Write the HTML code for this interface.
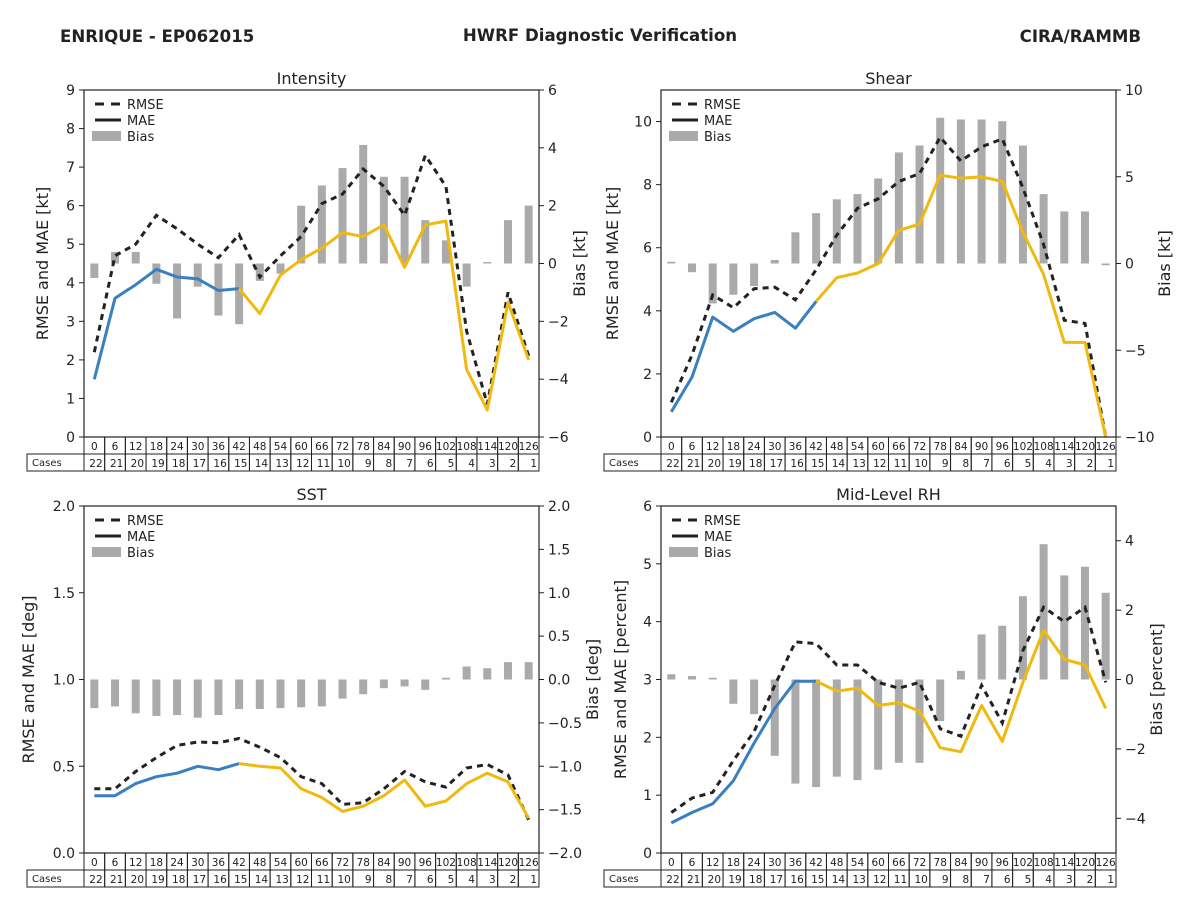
<!DOCTYPE html>
<html><head><meta charset="utf-8"><style>
body{margin:0;background:#fff}
svg{display:block;font-family:"DejaVu Sans","Liberation Sans",sans-serif}
</style></head><body>
<svg id="chart" width="1200" height="900" viewBox="0 0 1200 900">
<text x="60" y="42" font-size="16.6" font-weight="bold" fill="#222">ENRIQUE - EP062015</text>
<text x="600" y="41" font-size="16.6" font-weight="bold" fill="#222" text-anchor="middle">HWRF Diagnostic Verification</text>
<text x="1141" y="42" font-size="16.6" font-weight="bold" fill="#222" text-anchor="end">CIRA/RAMMB</text>
</svg>
<script>
const hours=[0,6,12,18,24,30,36,42,48,54,60,66,72,78,84,90,96,102,108,114,120,126];
const cases=[22,21,20,19,18,17,16,15,14,13,12,11,10,9,8,7,6,5,4,3,2,1];
const intRmse=[2.2,4.7,5.0,5.75,5.4,5.0,4.65,5.25,4.15,4.7,5.2,6.05,6.3,6.95,6.5,5.75,7.3,6.5,2.75,0.85,3.75,2.1];
const intMae=[1.5,3.6,3.95,4.35,4.15,4.1,3.8,3.85,3.2,4.2,4.6,4.9,5.3,5.2,5.5,4.4,5.5,5.6,1.75,0.7,3.5,2.0];
const intBias=[-0.5,0.4,0.4,-0.7,-1.9,-0.8,-1.8,-2.1,-0.6,-0.35,2.0,2.7,3.3,4.1,3.0,3.0,1.5,0.8,-0.8,0.05,1.5,2.0];
const shrRmse=[1.1,2.6,4.5,4.1,4.7,4.75,4.35,5.3,6.4,7.25,7.55,8.1,8.35,9.5,8.75,9.2,9.45,7.9,6.1,3.7,3.6,0];
const shrMae=[0.8,1.9,3.8,3.35,3.75,3.95,3.45,4.3,5.05,5.2,5.5,6.55,6.75,8.3,8.2,8.25,8.1,6.5,5.15,3.0,3.0,0];
const shrBias=[0.1,-0.5,-2.3,-1.8,-1.3,0.2,1.8,2.9,3.7,4.0,4.9,6.4,6.8,8.4,8.3,8.3,8.2,6.8,4.0,3.0,3.0,-0.1];
const sstRmse=[0.37,0.37,0.47,0.55,0.62,0.64,0.635,0.66,0.61,0.55,0.44,0.4,0.28,0.29,0.37,0.47,0.41,0.38,0.49,0.51,0.45,0.19];
const sstMae=[0.33,0.33,0.4,0.44,0.46,0.5,0.48,0.515,0.5,0.49,0.37,0.32,0.24,0.27,0.33,0.42,0.27,0.3,0.4,0.46,0.41,0.2];
const sstBias=[-0.33,-0.31,-0.39,-0.42,-0.41,-0.44,-0.41,-0.34,-0.34,-0.33,-0.32,-0.31,-0.22,-0.17,-0.1,-0.08,-0.12,0.02,0.15,0.13,0.2,0.2];
const rhRmse=[0.7,0.95,1.05,1.6,2.1,2.9,3.65,3.62,3.25,3.25,2.95,2.85,2.95,2.15,2.02,2.9,2.25,3.5,4.25,4.0,4.25,2.95];
const rhMae=[0.52,0.7,0.85,1.25,1.9,2.5,2.97,2.97,2.8,2.85,2.55,2.6,2.45,1.82,1.75,2.55,1.93,2.95,3.85,3.35,3.25,2.5];
const rhBias=[0.15,0.1,0.05,-0.7,-1.0,-2.2,-3.0,-3.1,-2.8,-2.9,-2.6,-2.4,-2.4,-1.2,0.25,1.3,1.55,2.4,3.9,3.0,3.25,2.5];

const svg=document.getElementById('chart');
const NS='http://www.w3.org/2000/svg';
function mk(tag,attrs,parent){const e=document.createElementNS(NS,tag);for(const k in attrs)e.setAttribute(k,attrs[k]);(parent||svg).appendChild(e);return e;}

const panels=[
 {key:'intensity',title:'Intensity',x0:84,y0:90,lmin:0,lmax:9,lt:[0,1,2,3,4,5,6,7,8,9],rmin:-6,rmax:6,rt:[-6,-4,-2,0,2,4,6],ll:'RMSE and MAE [kt]',rl:'Bias [kt]',llx:48,rlx:585,rmse:intRmse,mae:intMae,bias:intBias,fmt:v=>String(v).replace('-','\u2212')},
 {key:'shear',title:'Shear',x0:661,y0:90,lmin:0,lmax:11,lt:[0,2,4,6,8,10],rmin:-10,rmax:10,rt:[-10,-5,0,5,10],ll:'RMSE and MAE [kt]',rl:'Bias [kt]',llx:618,rlx:1170,rmse:shrRmse,mae:shrMae,bias:shrBias,fmt:v=>String(v).replace('-','\u2212')},
 {key:'sst',title:'SST',x0:84,y0:506,lmin:0,lmax:2,lt:[0,0.5,1,1.5,2],rmin:-2,rmax:2,rt:[-2,-1.5,-1,-0.5,0,0.5,1,1.5,2],ll:'RMSE and MAE [deg]',rl:'Bias [deg]',llx:34,rlx:598,rmse:sstRmse,mae:sstMae,bias:sstBias,fmt:v=>v.toFixed(1).replace('-','\u2212')},
 {key:'rh',title:'Mid-Level RH',x0:661,y0:506,lmin:0,lmax:6,lt:[0,1,2,3,4,5,6],rmin:-5,rmax:5,rt:[-4,-2,0,2,4],ll:'RMSE and MAE [percent]',rl:'Bias [percent]',llx:626,rlx:1162,rmse:rhRmse,mae:rhMae,bias:rhBias,fmt:v=>String(v).replace('-','\u2212')}
];
const W=455,H=347,n=hours.length,cw=W/n;

panels.forEach(p=>{
 const g=mk('g',{});
 
 
 const xs=i=>p.x0+cw*(i+0.5);
 const yl=v=>p.y0+H-(v-p.lmin)/(p.lmax-p.lmin)*H;
 const yr=v=>p.y0+H-(v-p.rmin)/(p.rmax-p.rmin)*H;
 const t=mk('text',{x:p.x0+W/2,y:p.y0-6,'font-size':16,'text-anchor':'middle',fill:'#222'},g);
 t.textContent=p.title;
 
 
 p.bias.forEach((b,i)=>{
  const y0=yr(0),y1=yr(b);
  const r=mk('rect',{x:xs(i)-4,y:Math.min(y0,y1),width:8,height:Math.max(0.8,Math.abs(y1-y0)),fill:'#aaaaaa'},g);
  
  
 });
 const rp=p.rmse.map((v,i)=>xs(i).toFixed(1)+','+yl(v).toFixed(1)).join(' ');
 const rl=mk('polyline',{points:rp,fill:'none',stroke:'#222','stroke-width':3,'stroke-dasharray':'6,5'},g);
 
 
 const split=7;
 const bp=p.mae.slice(0,split+1).map((v,i)=>xs(i).toFixed(1)+','+yl(v).toFixed(1)).join(' ');
 const yp=p.mae.slice(split).map((v,i)=>xs(i+split).toFixed(1)+','+yl(v).toFixed(1)).join(' ');
 const bl=mk('polyline',{points:bp,fill:'none',stroke:'#3a7fbf','stroke-width':3,'stroke-linejoin':'round'},g);
 
 
 const yl2=mk('polyline',{points:yp,fill:'none',stroke:'#f0b90f','stroke-width':3,'stroke-linejoin':'round'},g);
 
 
 const fr=mk('rect',{x:p.x0,y:p.y0,width:W,height:H,fill:'none',stroke:'#222','stroke-width':1.2},g);
 
 
 p.lt.forEach(v=>{
  const y=yl(v);
  mk('line',{x1:p.x0-5,x2:p.x0,y1:y,y2:y,stroke:'#222'},g);
  const tx=mk('text',{x:p.x0-9,y:y+5,'font-size':14,'text-anchor':'end',fill:'#222'},g);
  tx.textContent=p.key==='sst'?v.toFixed(1):String(v);
  
  
 });
 p.rt.forEach(v=>{
  const y=yr(v);
  mk('line',{x1:p.x0+W,x2:p.x0+W+5,y1:y,y2:y,stroke:'#222'},g);
  const tx=mk('text',{x:p.x0+W+9,y:y+5,'font-size':14,'text-anchor':'start',fill:'#222'},g);
  tx.textContent=p.fmt(v);
  
  
 });
 const cy=p.y0+H/2;
 const la=mk('text',{x:p.llx,y:cy,'font-size':16,'text-anchor':'middle',fill:'#222',transform:`rotate(-90 ${p.llx} ${cy})`},g);
 la.textContent=p.ll;
 
 
 const ra=mk('text',{x:p.rlx,y:cy,'font-size':16,'text-anchor':'middle',fill:'#222',transform:`rotate(-90 ${p.rlx} ${cy})`},g);
 ra.textContent=p.rl;
 
 
 const lg=mk('g',{},g);
 
 
 const lx=p.x0+11,ly=p.y0+14;
 mk('line',{x1:lx,x2:lx+26,y1:ly,y2:ly,stroke:'#222','stroke-width':3,'stroke-dasharray':'9,7'},lg);
 mk('line',{x1:lx,x2:lx+26,y1:ly+16,y2:ly+16,stroke:'#222','stroke-width':3},lg);
 mk('rect',{x:lx-3,y:ly+27,width:29,height:10,fill:'#aaaaaa'},lg);
 ['RMSE','MAE','Bias'].forEach((s,k)=>{
  const e=mk('text',{x:lx+32,y:ly+5+16*k,'font-size':13,fill:'#222'},lg);
  e.textContent=s;
  
  
 });
 const ty=p.y0+H;
 const tb=mk('g',{},g);
 
 
 mk('rect',{x:p.x0-57,y:ty+17,width:57,height:17,fill:'none',stroke:'#222'},tb);
 const cl=mk('text',{x:p.x0-52,y:ty+29,'font-size':10,fill:'#222'},tb);
 cl.textContent='Cases';
 hours.forEach((h,i)=>{
  const cx=p.x0+cw*i;
  mk('rect',{x:cx,y:ty,width:cw,height:17,fill:'none',stroke:'#222'},tb);
  mk('rect',{x:cx,y:ty+17,width:cw,height:17,fill:'none',stroke:'#222'},tb);
  const ht=mk('text',{x:cx+cw/2,y:ty+13,'font-size':10.5,'text-anchor':'middle',fill:'#222'},tb);
  ht.textContent=h;
  const ct=mk('text',{x:cx+cw-2,y:ty+30,'font-size':10.5,'text-anchor':'end',fill:'#222'},tb);
  ct.textContent=cases[i];
 });
});
</script>
</body></html>
